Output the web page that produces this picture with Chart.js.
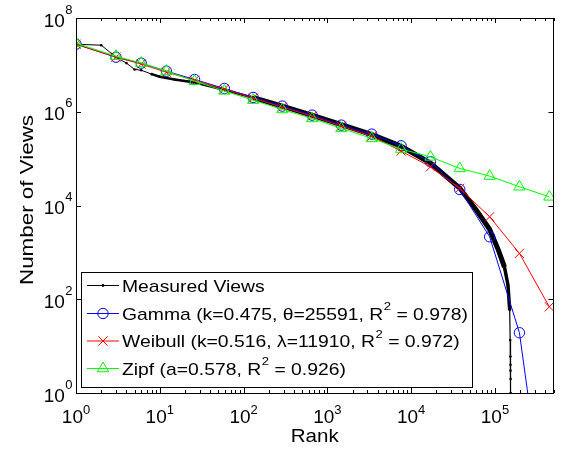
<!DOCTYPE html>
<html><head><meta charset="utf-8">
<script src="https://cdn.jsdelivr.net/npm/chart.js@4/dist/chart.umd.min.js"></script>
<style>html,body{margin:0;padding:0;background:#fff;overflow:hidden;}</style>
</head><body>
<canvas id="c" width="561" height="451"></canvas>
<script>
// ---- data ----
const measuredRanks = [1, 2, 3, 4, 5, 6, 8, 10, 15, 25, 60, 130, 290, 650, 1470, 3400, 7500, 17000, 38000, 60000, 86000, 110000, 130000, 143000, 150000, 152000, 153000, 153300, 153600, 153800, 154000];
const measuredViews = [2.76e7, 2.63e7, 1.46e7, 1.09e7, 7.98e6, 7.7e6, 6.34e6, 5.6e6, 4.89e6, 4.28e6, 2.89e6, 2.0e6, 1.32e6, 8.47e5, 5.31e5, 3.25e5, 1.85e5, 8.0e4, 2.35e4, 7.98e3, 3.14e3, 1.12e3, 486, 201, 59, 13.5, 6, 4, 3, 2, 1];
const fitRanks = [1, 3, 6, 12, 26, 59, 130, 290, 658, 1468, 3390, 7580, 17000, 38000, 86500, 196000, 446000];
const gammaViews = [2.76e7, 1.46e7, 1.09e7, 7.34e6, 4.89e6, 3.14e6, 2.02e6, 1.32e6, 8.47e5, 5.18e5, 3.33e5, 1.88e5, 8.55e4, 2.2e4, 2.15e3, 19.3, 4.5e-4];
const weibullViews = [2.76e7, 1.46e7, 1.04e7, 6.98e6, 4.72e6, 3.03e6, 1.95e6, 1.25e6, 8.05e5, 4.93e5, 3.02e5, 1.45e5, 6.69e4, 2.32e4, 5.75e3, 952, 69];
const zipfViews = [2.9e7, 1.53e7, 1.09e7, 7.34e6, 4.49e6, 2.79e6, 1.77e6, 1.12e6, 7.2e5, 4.41e5, 2.7e5, 1.6e5, 1.09e5, 6.18e4, 4.24e4, 2.51e4, 1.53e4];
const xTickExponents = [0, 1, 2, 3, 4, 5];
const yTickExponents = [0, 2, 4, 6, 8];
const legendNames = ['Measured Views', 'Gamma', 'Weibull', 'Zipf'];
const legendParams = ['', '(k=0.475, θ=25591, R', '(k=0.516, λ=11910, R', '(a=0.578, R'];
const legendR2 = ['', ' = 0.978)', ' = 0.972)', ' = 0.926)'];
const xTitle = 'Rank';
const yTitle = 'Number of Views';

const FONT = '"Liberation Sans", Arial, Helvetica, sans-serif';
const toXY = (xs, ys) => xs.map((x, i) => ({x: x, y: ys[i]}));

function segWidth(ctx) {
  const r = ctx.p0.parsed.x, v = ctx.p1.parsed.y;
  if (r < 8) return 1;
  if (r < 100) return 2.5;
  if (v < 40) return 1.2;
  if (v < 300) return 3.5;
  return 5;
}

// draw text stretched horizontally so it spans a given width
function stretchedText(ctx, text, x, y, font, stretch, align) {
  ctx.font = font;
  const w = ctx.measureText(text).width * stretch;
  let x0 = x;
  if (align === 'center') x0 = x - w / 2;
  else if (align === 'right') x0 = x - w;
  ctx.save();
  ctx.translate(x0, y); ctx.scale(stretch, 1);
  ctx.textAlign = 'left';
  ctx.fillText(text, 0, 0);
  ctx.restore();
  return w;
}

const axesPlugin = {
  id: 'matlabAxes',
  afterDraw(chart) {
    const ctx = chart.ctx, a = chart.chartArea, xs = chart.scales.x, ys = chart.scales.y;
    ctx.save();
    ctx.strokeStyle = '#000'; ctx.fillStyle = '#000'; ctx.lineWidth = 1;
    // box
    ctx.strokeRect(Math.round(a.left) + 0.5, Math.round(a.top) + 0.5, Math.round(a.right - a.left) - 1, Math.round(a.bottom - a.top));
    // ticks
    ctx.beginPath();
    xTickExponents.forEach(e => {
      for (let m = 1; m <= 9; m++) {
        const v = m * Math.pow(10, e);
        if (v > xs.max) break;
        const px = Math.round(xs.getPixelForValue(v)) + 0.5;
        const len = m === 1 ? 5 : 3;
        ctx.moveTo(px, a.bottom); ctx.lineTo(px, a.bottom - len);
        ctx.moveTo(px, a.top); ctx.lineTo(px, a.top + len);
      }
    });
    yTickExponents.forEach(e => {
      const py = Math.round(ys.getPixelForValue(Math.pow(10, e))) + 0.5;
      ctx.moveTo(a.left, py); ctx.lineTo(a.left + 5, py);
      ctx.moveTo(a.right, py); ctx.lineTo(a.right - 5, py);
    });
    ctx.stroke();
    // tick labels
    const big = '19px ' + FONT, small = '13px ' + FONT;
    ctx.textBaseline = 'alphabetic'; ctx.textAlign = 'left';
    xTickExponents.forEach(e => {
      const px = xs.getPixelForValue(Math.pow(10, e));
      ctx.font = big; const w1 = ctx.measureText('10').width;
      ctx.font = small; const w2 = ctx.measureText(String(e)).width;
      const x0 = px - (w1 + w2) / 2;
      ctx.font = big; ctx.fillText('10', x0, 423);
      ctx.font = small; ctx.fillText(String(e), x0 + w1, 414);
    });
    yTickExponents.forEach(e => {
      const py = ys.getPixelForValue(Math.pow(10, e));
      ctx.font = small; const w2 = ctx.measureText(String(e)).width;
      ctx.font = big; const w1 = ctx.measureText('10').width;
      const x0 = 72 - w1 - w2;
      ctx.fillText('10', x0, py + 8.5);
      ctx.font = small; ctx.fillText(String(e), x0 + w1 + 0.5, py - 4.5);
    });
    // axis titles
    const tfont = '19px ' + FONT;
    ctx.font = tfont;
    const xs1 = 48 / ctx.measureText(xTitle).width;
    stretchedText(ctx, xTitle, (a.left + a.right) / 2, 442, tfont, xs1, 'center');
    const ys1 = 170 / ctx.measureText(yTitle).width;
    ctx.save();
    ctx.translate(33, 200); ctx.rotate(-Math.PI / 2);
    stretchedText(ctx, yTitle, 0, 0, tfont, ys1, 'center');
    ctx.restore();
    // legend
    const L = 81, T = 272, R = 472, B = 387;
    ctx.fillStyle = '#fff'; ctx.fillRect(L, T, R - L, B - T);
    ctx.strokeStyle = '#000'; ctx.lineWidth = 1;
    ctx.strokeRect(L + 0.5, T + 0.5, R - L, B - T);
    const rows = [285, 313, 340.5, 368];
    const ds = chart.data.datasets;
    const lfont = '17px ' + FONT, sfont = '11.5px ' + FONT;
    // stretch so that the Gamma row spans the same width as in the reference
    ctx.font = lfont;
    let gw = ctx.measureText(legendNames[1] + ' ' + legendParams[1]).width + ctx.measureText(legendR2[1]).width;
    ctx.font = sfont; gw += ctx.measureText('2').width + 0.5;
    const lst = 346 / gw;
    [0, 1, 2, 3].forEach((k, i) => {
      const d = ds[k], cy = rows[i];
      ctx.strokeStyle = d.borderColor; ctx.lineWidth = 1;
      ctx.beginPath(); ctx.moveTo(87, cy + 0.5); ctx.lineTo(119, cy + 0.5); ctx.stroke();
      ctx.fillStyle = 'rgba(0,0,0,0)';
      if (k > 0) Chart.helpers.drawPoint(ctx, {pointStyle: d.pointStyle, radius: d.pointRadius, rotation: 0, borderWidth: 1}, 103, cy + 0.5);
      else { ctx.fillStyle = '#000'; ctx.beginPath(); ctx.arc(103, cy + 0.5, 1.4, 0, Math.PI * 2); ctx.fill(); }
      ctx.fillStyle = '#000';
      let x = 122;
      const t1 = legendNames[k] + (legendParams[k] ? ' ' + legendParams[k] : '');
      x += stretchedText(ctx, t1, x, cy + 6.5, lfont, lst, 'left');
      if (legendR2[k]) {
        x += stretchedText(ctx, '2', x + 0.5, cy - 3, sfont, lst, 'left') + 0.5;
        stretchedText(ctx, legendR2[k], x, cy + 6.5, lfont, lst, 'left');
      }
    });
    ctx.restore();
  }
};

new Chart(document.getElementById('c'), {
  type: 'line',
  data: {
    datasets: [
      { label: 'Measured Views', data: toXY(measuredRanks, measuredViews), borderColor: '#000', backgroundColor: '#000',
        borderWidth: 1, pointRadius: 1.3, pointStyle: 'circle', pointBorderWidth: 0, order: 3,
        segment: { borderWidth: segWidth } },
      { label: 'Gamma', data: toXY(fitRanks, gammaViews), borderColor: '#0000ff', backgroundColor: 'rgba(0,0,0,0)',
        borderWidth: 1, pointRadius: 5.2, pointStyle: 'circle', pointBorderWidth: 1, order: 2 },
      { label: 'Weibull', data: toXY(fitRanks, weibullViews), borderColor: '#ff0000', backgroundColor: 'rgba(0,0,0,0)',
        borderWidth: 1, pointRadius: 6.5, pointStyle: 'crossRot', pointBorderWidth: 1, order: 1 },
      { label: 'Zipf', data: toXY(fitRanks, zipfViews), borderColor: '#00ff00', backgroundColor: 'rgba(0,0,0,0)',
        borderWidth: 1, pointRadius: 6.5, pointStyle: 'triangle', pointBorderWidth: 1, order: 0 }
    ]
  },
  options: {
    responsive: false, animation: false, devicePixelRatio: 1,
    layout: { padding: { left: 76, right: 5, top: 18, bottom: 58 } },
    plugins: { legend: { display: false }, tooltip: { enabled: false } },
    elements: { line: { tension: 0 } },
    scales: {
      x: { type: 'logarithmic', min: 1, max: 5e5, display: false },
      y: { type: 'logarithmic', min: 1, max: 1e8, display: false }
    }
  },
  plugins: [axesPlugin]
});
</script>
</body></html>
